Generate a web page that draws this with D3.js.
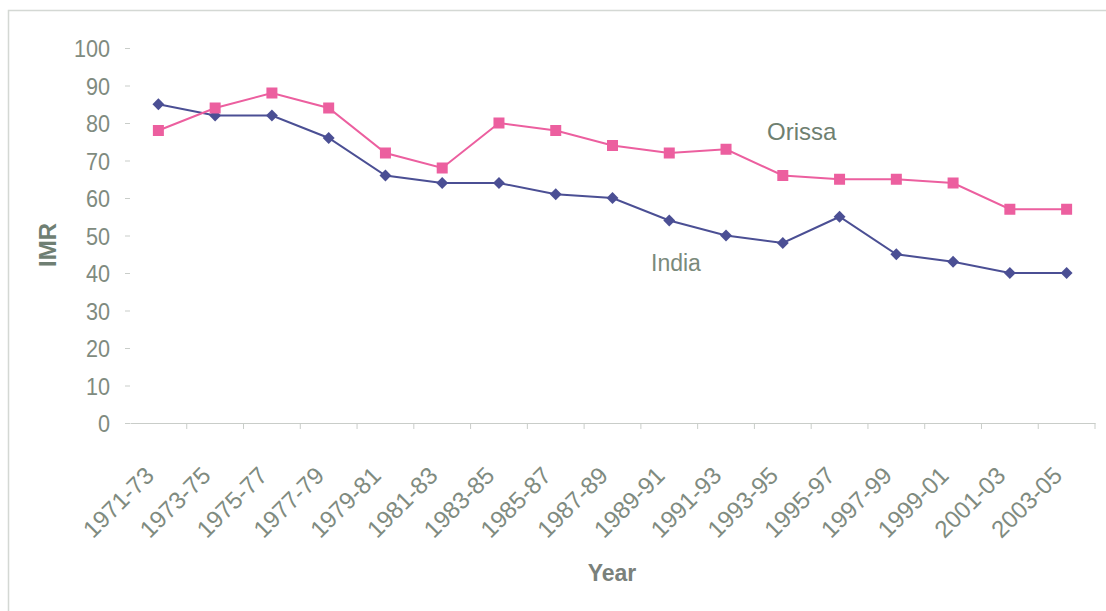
<!DOCTYPE html>
<html>
<head>
<meta charset="utf-8">
<script src="https://cdn.jsdelivr.net/npm/d3@7"></script>
<style>
  html, body { margin: 0; padding: 0; background: #fff; }
  svg { display: block; }
  text { font-family: "Liberation Sans", Arial, sans-serif; }
</style>
</head>
<body>
<svg id="chart" width="1106" height="611"></svg>
<script>
// Infant mortality rate (IMR), three-year periods
const periods = ["1971-73","1973-75","1975-77","1977-79","1979-81","1981-83","1983-85","1985-87",
  "1987-89","1989-91","1991-93","1993-95","1995-97","1997-99","1999-01","2001-03","2003-05"];
const india  = [85, 82, 82, 76, 66, 64, 64, 61, 60, 54, 50, 48, 55, 45, 43, 40, 40];
const orissa = [78, 84, 88, 84, 72, 68, 80, 78, 74, 72, 73, 66, 65, 65, 64, 57, 57];
const yTicks = [0, 10, 20, 30, 40, 50, 60, 70, 80, 90, 100];

const svg = d3.select("#chart");
const textColor = "#7f8b80";
const axisColor = "#c9cdc9";

// outer frame
svg.append("path")
  .attr("d", "M8.5,611 V10.5 H1106")
  .attr("fill", "none").attr("stroke", "#d4d8d4").attr("stroke-width", 1.5);

const x = d3.scaleBand().domain(periods).range([130, 1095]);
const y = d3.scaleLinear().domain([0, 100]).range([423, 48]);

// y axis: tick marks and labels only
const yAxis = svg.append("g").attr("transform", "translate(130,0)")
  .call(d3.axisLeft(y).tickValues(yTicks).tickSize(5));
yAxis.select(".domain").remove();
yAxis.selectAll(".tick line").attr("stroke", axisColor);
yAxis.selectAll(".tick text")
  .attr("x", null).attr("dy", null)
  .attr("transform", "translate(-20,8.5) scale(0.9,1)")
  .attr("fill", textColor).style("font-size", "24px");

// x axis
const xAxis = svg.append("g").attr("transform", "translate(0,423)")
  .call(d3.axisBottom(x).tickSize(0).tickFormat(""));
xAxis.select(".domain").attr("stroke", axisColor).attr("stroke-width", 1.2);
xAxis.selectAll(".tick").remove();
// tick marks at category boundaries
const bounds = periods.map(p => x(p)).concat([x.range()[1]]).slice(1);
xAxis.selectAll("line.b").data(bounds).join("line")
  .attr("class", "b")
  .attr("x1", d => d).attr("x2", d => d)
  .attr("y1", 0).attr("y2", 6)
  .attr("stroke", axisColor);

// rotated category labels
svg.append("g").selectAll("text").data(periods).join("text")
  .attr("transform", d => `translate(${x(d) + x.bandwidth() / 2 - 3},${477}) rotate(-45)`)
  .attr("text-anchor", "end")
  .attr("fill", textColor)
  .style("font-size", "24px")
  .text(d => d);

// axis titles
svg.append("text")
  .attr("x", 612).attr("y", 581)
  .attr("text-anchor", "middle")
  .attr("fill", "#7a817b").style("font-size", "23px").style("font-weight", "bold")
  .text("Year");
svg.append("text")
  .attr("transform", "translate(56,245) rotate(-90)")
  .attr("text-anchor", "middle")
  .attr("fill", "#6f7f73").style("font-size", "24px").style("font-weight", "bold")
  .text("IMR");

const cx = d => x(d) + x.bandwidth() / 2;
const line = d3.line().x((d, i) => cx(periods[i])).y(d => y(d));

// India series: dark blue with diamonds
const indiaColor = "#4b4f94";
svg.append("path").datum(india)
  .attr("d", line).attr("fill", "none")
  .attr("stroke", indiaColor).attr("stroke-width", 2);
svg.append("g").selectAll("path").data(india).join("path")
  .attr("transform", (d, i) => `translate(${cx(periods[i])},${y(d)})`)
  .attr("d", d3.symbol(d3.symbolDiamond2, 90)())
  .attr("fill", indiaColor);

// Orissa series: pink with squares
const orissaColor = "#ec5f9f";
svg.append("path").datum(orissa)
  .attr("d", line).attr("fill", "none")
  .attr("stroke", orissaColor).attr("stroke-width", 2);
svg.append("g").selectAll("rect").data(orissa).join("rect")
  .attr("x", (d, i) => cx(periods[i]) - 5.5)
  .attr("y", d => y(d) - 5.5)
  .attr("width", 11).attr("height", 11)
  .attr("fill", orissaColor);

// series labels
svg.append("text").attr("x", 767).attr("y", 140)
  .attr("fill", "#6f8070").style("font-size", "24px").text("Orissa");
svg.append("text").attr("x", 651).attr("y", 271)
  .attr("fill", "#7a8a7c").style("font-size", "23px").text("India");
</script>
</body>
</html>
